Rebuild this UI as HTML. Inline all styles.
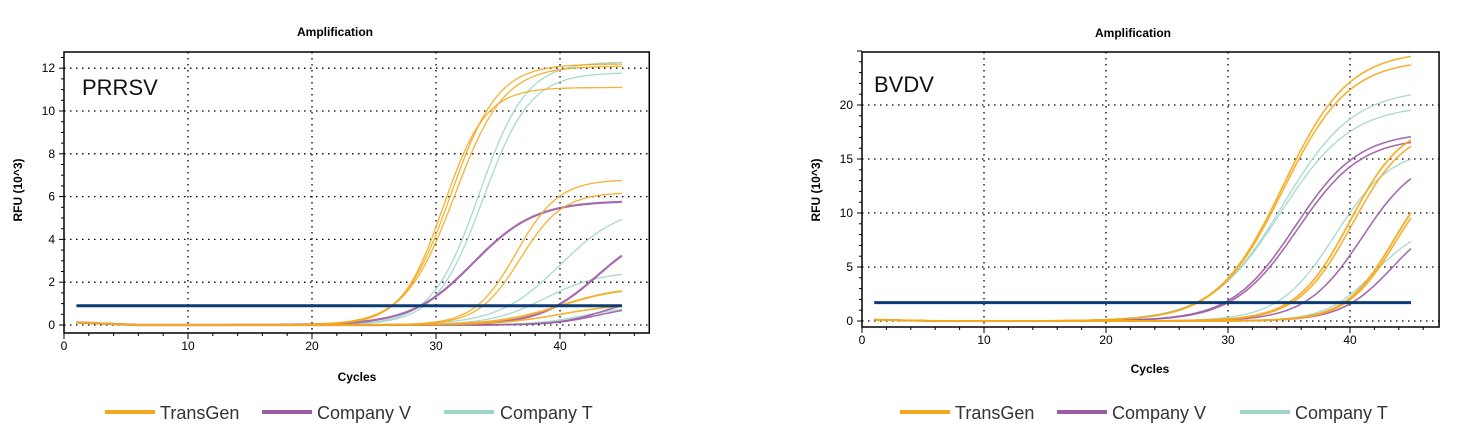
<!DOCTYPE html>
<html><head><meta charset="utf-8"><style>
html,body{margin:0;padding:0;background:#fff;}
svg{display:block;}
text{font-family:"Liberation Sans",sans-serif;}
</style></head><body>
<svg id="s" width="1462" height="439" xmlns="http://www.w3.org/2000/svg">
<text x="335" y="36" font-size="12" font-weight="bold" text-anchor="middle">Amplification</text>
<text x="357" y="381" font-size="12" font-weight="bold" text-anchor="middle">Cycles</text>
<text transform="translate(22,190) rotate(-90)" font-size="12" font-weight="bold" text-anchor="middle">RFU (10^3)</text>
<text x="82" y="95" font-size="22" fill="#111">PRRSV</text>
<text x="1133" y="37" font-size="12" font-weight="bold" text-anchor="middle">Amplification</text>
<text x="1150" y="373" font-size="12" font-weight="bold" text-anchor="middle">Cycles</text>
<text transform="translate(820,190) rotate(-90)" font-size="12" font-weight="bold" text-anchor="middle">RFU (10^3)</text>
<text x="874" y="92" font-size="22" fill="#111">BVDV</text>
<g font-size="18" fill="#333">
<line x1="105" y1="412" x2="155" y2="412" stroke="#F5A81C" stroke-width="4"/><text x="160" y="419">TransGen</text>
<line x1="262" y1="412" x2="312" y2="412" stroke="#9B5BA5" stroke-width="4"/><text x="317" y="419">Company V</text>
<line x1="444" y1="412" x2="494" y2="412" stroke="#9ED5C8" stroke-width="4"/><text x="500" y="419">Company T</text>
<line x1="900" y1="412" x2="950" y2="412" stroke="#F5A81C" stroke-width="4"/><text x="955" y="419">TransGen</text>
<line x1="1057" y1="412" x2="1107" y2="412" stroke="#9B5BA5" stroke-width="4"/><text x="1112" y="419">Company V</text>
<line x1="1240" y1="412" x2="1290" y2="412" stroke="#9ED5C8" stroke-width="4"/><text x="1295" y="419">Company T</text>
</g>
</svg>
<script>
const S=document.getElementById('s');const NS='http://www.w3.org/2000/svg';
function el(t,a,txt){const e=document.createElementNS(NS,t);for(const k in a)e.setAttribute(k,a[k]);if(txt!==undefined)e.textContent=txt;S.appendChild(e);return e;}
const O='#F5A81C',P='#9B5BA5',T='#9ED5C8';
function chart(c){
 const X=v=>c.x0+v*c.xs, Y=v=>c.y0-v*c.ys;
 const L=c.x0,R=c.x0+c.xmax*c.xs,Tp=c.top,B=c.bot;
 el('rect',{x:L,y:Tp,width:R-L,height:B-Tp,fill:'none',stroke:'#000','stroke-width':1.5});
 for(let v=10;v<=40;v+=10)el('line',{x1:X(v),y1:Tp,x2:X(v),y2:B,stroke:'#000','stroke-width':1.3,'stroke-dasharray':'1.5,4.5'});
 for(let v=c.ystep;v<=c.ymaxg;v+=c.ystep)el('line',{x1:L,y1:Y(v),x2:R,y2:Y(v),stroke:'#000','stroke-width':1.3,'stroke-dasharray':'1.5,4.5'});
 el('line',{x1:L,y1:Y(0),x2:R,y2:Y(0),stroke:'#000','stroke-width':1.3,'stroke-dasharray':'1.5,4.5'});
 for(let v=0;v<=c.xmax;v+=2){el('line',{x1:X(v),y1:B,x2:X(v),y2:B+(v%10?3:6),stroke:'#000'});}
 for(let v=0;v<=40;v+=10)el('text',{x:X(v),y:B+17,'font-size':12,'text-anchor':'middle'},v);
 for(let v=0;v<=c.ytop;v+=c.yminor){el('line',{x1:L-(Math.abs(v/c.ystep-Math.round(v/c.ystep))<1e-6?5:3),y1:Y(v),x2:L,y2:Y(v),stroke:'#000'});}
 for(let v=0;v<=c.ymaxg;v+=c.ystep)el('text',{x:L-9,y:Y(v)+4,'font-size':12,'text-anchor':'end'},v);
 c.curves.forEach(([col,A,m,s,w])=>{let d='';for(let x=1;x<=45;x+=0.25){const y=A/(1+Math.exp(-(x-m)/s))+(x<6?0.12*(6-x)/5*c.base:0);d+=(d?'L':'M')+X(x).toFixed(1)+','+Y(y).toFixed(1);}
  el('path',{d,fill:'none',stroke:col,'stroke-width':w||1.3,opacity:0.9});});
 el('line',{x1:X(1),y1:Y(c.th),x2:X(45),y2:Y(c.th),stroke:'#0B3C73','stroke-width':3});
}
chart({x0:64,xs:12.4,xmax:47.2,y0:325,ys:21.4,top:52,bot:333,ystep:2,ymaxg:12,ytop:12.6,yminor:0.5,th:0.9,base:1,
curves:[[T,12.3,33.5,1.9],[T,11.8,33.8,1.9],[T,5.6,40,2.5],[T,2.5,38.8,2.2],[T,0.9,42,2],
[P,5.8,33,2.5,2.2],[P,4.6,43,2.3,2.2],[P,1.3,43.5,1.8,1.6],[P,0.9,43,1.8,1.6],
[O,12.2,31.2,1.9],[O,11.1,30.6,1.7],[O,12.1,31.5,2.0],[O,6.8,36.5,1.7],[O,6.2,36.8,1.7],[O,1.8,40,2.5,2],[O,1.0,40,2.5,1.6]]});
chart({x0:862,xs:12.2,xmax:47.3,y0:321,ys:10.8,top:52,bot:327,ystep:5,ymaxg:20,ytop:25,yminor:1,th:1.7,base:1,
curves:[[T,21.5,34.5,2.9],[T,20,34.3,2.9],[T,16,38.8,2.3],[T,9,42,2],
[P,17.5,35.5,2.6,1.6],[P,17,35.7,2.6,1.6],[P,15.5,41,2.3,1.6],[P,10,43.5,2.1,1.6],
[O,25,34.5,2.7,1.6],[O,24.2,34.5,2.7,1.6],[O,18.5,40,2.2,1.8],[O,18,40.2,2.2,1.6],[O,15,43.6,2.0,2],[O,14.5,43.7,2.0,1.6]]});
</script>
</body></html>
